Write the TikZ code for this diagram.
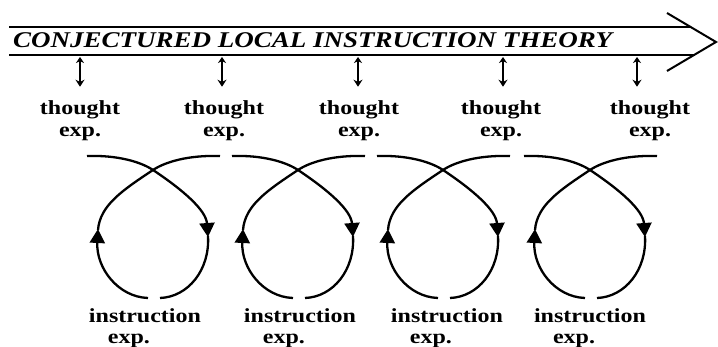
\documentclass[tikz,border=0pt]{standalone}
\usepackage{fontspec}
\setmainfont{Liberation Serif}[FakeStretch=1.2]
\usetikzlibrary{positioning,arrows.meta}
\tikzset{
  cltfaixa/.style={line width=2.8pt, draw=black},
  cltponta/.style={line width=2pt, draw=black},
  clttitulo/.style={font=\bfseries\itshape\fontsize{22.5}{24}\selectfont, inner sep=0pt},
  ciclo/.style={line width=2.3pt, draw=black},
  cicloseta/.style={ciclo, -{Triangle[length=14pt,width=15pt]}},
  vaivem/.style={line width=2.4pt, {Stealth[length=6pt,width=8pt]}-{Stealth[length=7pt,width=9pt]},
                 shorten >=13pt},
}

\begin{document}
\begin{tikzpicture}[x=1pt, y=-1pt,
        pensado/.style={font=\bfseries\fontsize{20}{22}\selectfont, align=center, inner sep=1pt},
        ensino/.style={font=\bfseries\fontsize{20}{21}\selectfont, align=left, inner sep=1pt}
    ]
    \useasboundingbox (0,0) rectangle (718,347);
    % faixa da teoria
    \draw[cltfaixa] (9,27) -- (691,27);
    \draw[cltfaixa] (9,55) -- (695,55);
    \draw[cltponta] (667,13) -- (716,42) -- (667,71);
    \node[clttitulo, anchor=base west] (titulo) at (13,48) {CONJECTURED LOCAL INSTRUCTION THEORY};
    % experimentos de pensamento
    \node[pensado] (th1) at (80,121) {thought\\exp.};
    \node[pensado] (th2) at (224,121) {thought\\exp.};
    \node[pensado] (th3) at (359,121) {thought\\exp.};
    \node[pensado] (th4) at (501,121) {thought\\exp.};
    \node[pensado] (th5) at (650,121) {thought\\exp.};
    \coordinate (b1) at (80,57);
    \coordinate (b2) at (222,57);
    \coordinate (b3) at (358,57);
    \coordinate (b4) at (503,57);
    \coordinate (b5) at (637,57);
    \draw[vaivem] (b1) -- (b1 |- th1.north);
    \draw[vaivem] (b2) -- (b2 |- th2.north);
    \draw[vaivem] (b3) -- (b3 |- th3.north);
    \draw[vaivem] (b4) -- (b4 |- th4.north);
    \draw[vaivem] (b5) -- (b5 |- th5.north);
    % ciclos de ensino
    \begin{scope}[shift={(153,0)}]
        \draw[cicloseta] (-66,156) .. controls (-35,155) and (-12,162) .. (0,170) .. controls (30,190) and (53,210) .. (55,237);
        \draw[ciclo] (55,236) .. controls (57,270) and (35,297) .. (7,298);
        \draw[cicloseta] (-5,298) .. controls (-35,297) and (-57,268) .. (-55,229);
        \draw[ciclo] (-55,230) .. controls (-53,205) and (-30,190) .. (0,170) .. controls (12,162) and (35,155) .. (67,156);
    \end{scope}
    \begin{scope}[shift={(298,0)}]
        \draw[cicloseta] (-66,156) .. controls (-35,155) and (-12,162) .. (0,170) .. controls (30,190) and (53,210) .. (55,237);
        \draw[ciclo] (55,236) .. controls (57,270) and (35,297) .. (7,298);
        \draw[cicloseta] (-5,298) .. controls (-35,297) and (-57,268) .. (-55,229);
        \draw[ciclo] (-55,230) .. controls (-53,205) and (-30,190) .. (0,170) .. controls (12,162) and (35,155) .. (67,156);
    \end{scope}
    \begin{scope}[shift={(443,0)}]
        \draw[cicloseta] (-66,156) .. controls (-35,155) and (-12,162) .. (0,170) .. controls (30,190) and (53,210) .. (55,237);
        \draw[ciclo] (55,236) .. controls (57,270) and (35,297) .. (7,298);
        \draw[cicloseta] (-5,298) .. controls (-35,297) and (-57,268) .. (-55,229);
        \draw[ciclo] (-55,230) .. controls (-53,205) and (-30,190) .. (0,170) .. controls (12,162) and (35,155) .. (67,156);
    \end{scope}
    \begin{scope}[shift={(590,0)}]
        \draw[cicloseta] (-66,156) .. controls (-35,155) and (-12,162) .. (0,170) .. controls (30,190) and (53,210) .. (55,237);
        \draw[ciclo] (55,236) .. controls (57,270) and (35,297) .. (7,298);
        \draw[cicloseta] (-5,298) .. controls (-35,297) and (-57,268) .. (-55,229);
        \draw[ciclo] (-55,230) .. controls (-53,205) and (-30,190) .. (0,170) .. controls (12,162) and (35,155) .. (67,156);
    \end{scope}
    % experimentos de ensino
    \node[ensino] (in1) at (145,328) {instruction\\\hspace*{19pt}exp.};
    \node[ensino] (in2) at (300,328) {instruction\\\hspace*{19pt}exp.};
    \node[ensino] (in3) at (447,328) {instruction\\\hspace*{19pt}exp.};
    \node[ensino] (in4) at (590,328) {instruction\\\hspace*{19pt}exp.};
\end{tikzpicture}
\end{document}
